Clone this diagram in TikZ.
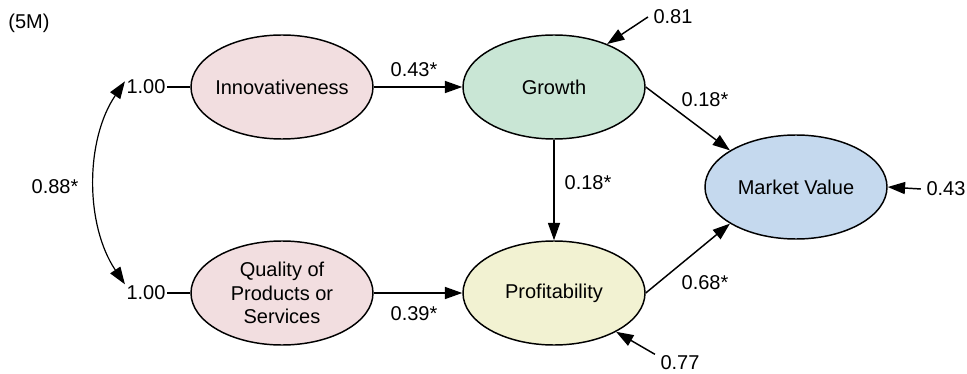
\documentclass[tikz,border=0pt]{standalone}
\usepackage{fontspec}
\setmainfont{Liberation Sans}
\usetikzlibrary{shapes.geometric, arrows.meta}
\definecolor{pinkfill}{RGB}{242,222,224}
\definecolor{greenfill}{RGB}{201,230,213}
\definecolor{yellowfill}{RGB}{242,242,210}
\definecolor{bluefill}{RGB}{197,217,238}
\begin{document}
\begin{tikzpicture}[x=0.75pt, y=-0.75pt,
  every node/.style={font=\fontsize{15}{17.6}\selectfont, inner sep=1pt},
  latent/.style={ellipse, draw, line width=1.1pt, minimum width=136.5pt,
    minimum height=78pt, inner sep=0pt},
  errlabel/.style={inner xsep=4pt},
  tip/.style={Triangle[length=13pt, width=9pt]},
  effect/.style={line width=1.1pt, -{Triangle[length=13pt, width=9pt]}},
  corr/.style={line width=0.9pt, {Triangle[length=13pt, width=9pt]}-{Triangle[length=13pt, width=9pt]}},
  fixline/.style={line width=1.1pt}]
\useasboundingbox (0,0) rectangle (967,374);

% model tag
\node (tag) at (29,23) {(5M)};

% latent constructs
\node[latent, fill=pinkfill, label=center:Innovativeness] (inn) at (282,87) {};
\node[latent, fill=pinkfill,
  label={[align=center]center:Quality of\\Products or\\Services}] (qual) at (282,293) {};
\node[latent, fill=greenfill, label=center:Growth] (gro) at (554,87) {};
\node[latent, fill=yellowfill, label=center:Profitability] (pro) at (554,293) {};
\node[latent, fill=bluefill, label=center:Market Value] (mv) at (796,187) {};

% fixed variances of the exogenous constructs
\node (v1) at (146,87) {1.00};
\node (v2) at (146,293) {1.00};
\draw[fixline] (v1.east) -- (inn.west);
\draw[fixline] (v2.east) -- (qual.west);

% correlation between the exogenous constructs
\draw[corr] (v1.165) .. controls (85,140) and (85,225) .. (v2.north west);
\node (r) at (55,187) {0.88*};

% structural paths
\draw[effect] (inn) -- (gro);
\node (b1) at (414,70) {0.43*};
\draw[effect] (qual) -- (pro);
\node (b2) at (414,314) {0.39*};
\draw[effect] (gro) -- (pro);
\node (b3) at (588,183) {0.18*};
\draw[effect] (gro.east) -- (mv.151);
\node (b4) at (705,100) {0.18*};
\draw[effect] (pro.east) -- (mv.209);
\node (b5) at (705,283) {0.68*};

% disturbances
\node[errlabel] (e1) at (673,17) {0.81};
\draw[effect] (e1.west) -- (gro.39);
\node[errlabel] (e2) at (680,363) {0.77};
\draw[effect] (e2.north west) -- (pro.-32);
\node[errlabel] (e3) at (946,189) {0.43};
\draw[effect] (e3.west) -- (mv.east);
\end{tikzpicture}
\end{document}
